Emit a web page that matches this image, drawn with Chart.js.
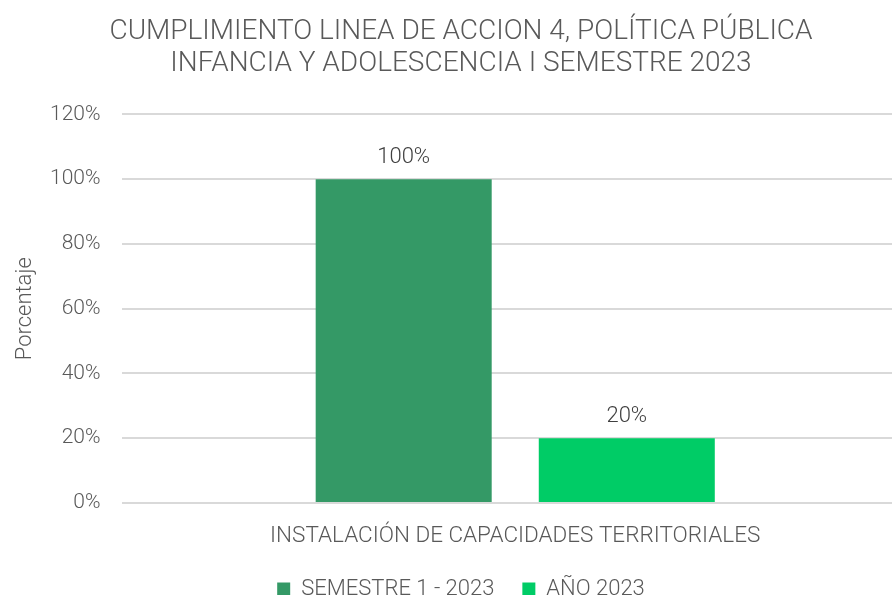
<!DOCTYPE html>
<html><head><meta charset="utf-8">
<script src="https://cdn.jsdelivr.net/npm/chart.js@4"></script>
<style>html,body{margin:0;padding:0;overflow:hidden;background:#fff}#wrap{width:908px;height:595px}</style>
</head><body><div id="wrap"><canvas id="c" width="908" height="595"></canvas></div>
<script>
const categories = ["INSTALACIÓN DE CAPACIDADES TERRITORIALES"];
const seriesNames = ["SEMESTRE 1 - 2023", "AÑO 2023"];
const semestre1 = [100];
const anio2023 = [20];
const yTicks = [0, 20, 40, 60, 80, 100, 120];
const titleLines = ["CUMPLIMIENTO LINEA DE ACCION 4, POLÍTICA PÚBLICA", "INFANCIA Y ADOLESCENCIA I SEMESTRE 2023"];

const FONT = "Roboto, 'Open Sans', sans-serif";
const W = '300';
const labelPlugin = {
  id: 'valLabels',
  afterDatasetsDraw(chart) {
    const ctx = chart.ctx;
    ctx.save();
    ctx.font = W + " 22px " + FONT;
    ctx.fillStyle = "#404040";
    ctx.textAlign = "center";
    ctx.textBaseline = "bottom";
    chart.data.datasets.forEach((ds, i) => {
      chart.getDatasetMeta(i).data.forEach((bar, j) => {
        ctx.fillText(ds.data[j] + "%", bar.x, bar.y - 11);
      });
    });
    ctx.restore();
  }
};
new Chart(document.getElementById('c'), {
  type: 'bar',
  data: {
    labels: categories,
    datasets: [
      { label: seriesNames[0], data: semestre1, backgroundColor: '#349966' },
      { label: seriesNames[1], data: anio2023, backgroundColor: '#00CC66' }
    ]
  },
  options: {
    responsive: false,
    animation: false,
    layout: { padding: { left: 14, right: 0, top: 16, bottom: -15 } },
    datasets: { bar: { categoryPercentage: 0.568, barPercentage: 0.789 } },
    plugins: {
      title: { display: true, text: titleLines, color: '#595959', font: { family: FONT, size: 28, weight: W, lineHeight: 1.15 }, padding: { top: 0, bottom: 34 } },
      legend: { position: 'bottom', labels: { color: '#595959', font: { family: FONT, size: 22, weight: W }, boxWidth: 13, boxHeight: 13, padding: 28 } },
      tooltip: { enabled: false }
    },
    scales: {
      x: {
        grid: { display: false },
        border: { display: false },
        ticks: { color: '#595959', font: { family: FONT, size: 22.5, weight: W }, padding: 12 },
        afterFit(scale) { scale.height -= 12; }
      },
      y: {
        min: 0, max: 120,
        afterBuildTicks(axis) { axis.ticks = yTicks.map(v => ({ value: v })); },
        grid: { color: '#d9d9d9', lineWidth: 2, drawTicks: false },
        border: { display: false },
        ticks: { color: '#595959', font: { family: FONT, size: 21, weight: W }, padding: 22, callback: v => v + '%' },
        title: { display: true, text: 'Porcentaje', color: '#595959', font: { family: FONT, size: 22, weight: W, lineHeight: 1 }, padding: { top: 0, bottom: -8 } }
      }
    }
  },
  plugins: [labelPlugin]
});
</script></body></html>
